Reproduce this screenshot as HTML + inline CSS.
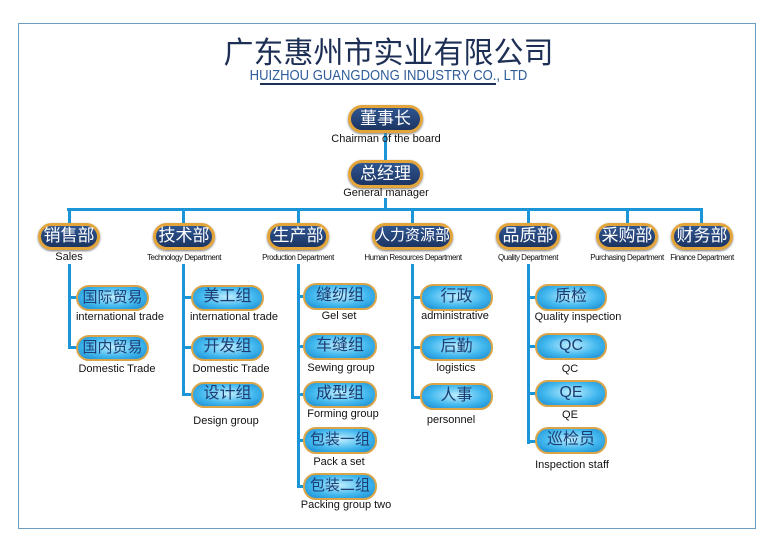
<!DOCTYPE html>
<html><head><meta charset="utf-8"><style>
body{margin:0;width:777px;height:548px;background:#fff;position:relative;overflow:hidden;font-family:"Liberation Sans","Noto Sans CJK SC",sans-serif}
.a{position:absolute}
.frame{left:18px;top:23px;width:738px;height:506px;border:1.5px solid #6a9ec0;box-sizing:border-box}
.dk{position:absolute;box-sizing:border-box;border:3px solid #e3a53a;border-radius:14px;background:linear-gradient(#2f5590,#1b3563);color:#fff;font-size:17px;line-height:1;white-space:nowrap;display:flex;align-items:center;justify-content:center;padding-bottom:2px;box-shadow:0 1px 2px #777}
.lt{position:absolute;box-sizing:border-box;border:2px solid #d9a548;border-radius:13px;background:radial-gradient(ellipse at 50% 45%,#bfeeff 0%,#42b8ee 55%,#1587cf 100%);color:#1d3e73;font-size:16px;line-height:1;white-space:nowrap;display:flex;align-items:center;justify-content:center;padding-bottom:2px}
.lb{position:absolute;font-size:11px;color:#111;text-align:center;transform:translateX(-50%);white-space:nowrap}
.sm{font-size:8px;letter-spacing:-0.5px}
.ln{position:absolute;background:#1a96d8}
</style></head><body>
<div class="a frame"></div>
<div class="a" style="left:0;width:777px;top:32px;text-align:center;font-size:30px;color:#1e2f55;font-family:'Noto Sans CJK SC',sans-serif;line-height:36px">广东惠州市实业有限公司</div>
<div class="a" style="left:0;width:777px;top:67px;text-align:center;font-size:15px;color:#2e5c9a;transform:scaleX(0.87)">HUIZHOU GUANGDONG INDUSTRY CO., LTD</div>
<div class="a" style="left:260px;top:83px;width:236px;height:2px;background:#1e2f55"></div>

<div class="ln" style="left:384px;top:133px;width:3px;height:28px"></div>
<div class="ln" style="left:384px;top:198px;width:3px;height:12px"></div>
<div class="ln" style="left:67px;top:208px;width:635px;height:3px"></div>
<div class="ln" style="left:68px;top:208px;width:3px;height:16px"></div>
<div class="ln" style="left:182px;top:208px;width:3px;height:16px"></div>
<div class="ln" style="left:297px;top:208px;width:3px;height:16px"></div>
<div class="ln" style="left:411px;top:208px;width:3px;height:16px"></div>
<div class="ln" style="left:527px;top:208px;width:3px;height:16px"></div>
<div class="ln" style="left:626px;top:208px;width:3px;height:16px"></div>
<div class="ln" style="left:700px;top:208px;width:3px;height:16px"></div>

<div class="ln" style="left:68px;top:264px;width:3px;height:85px"></div>
<div class="ln" style="left:68px;top:296px;width:10px;height:3px"></div>
<div class="ln" style="left:68px;top:346px;width:10px;height:3px"></div>
<div class="ln" style="left:182px;top:264px;width:3px;height:132px"></div>
<div class="ln" style="left:182px;top:296px;width:10px;height:3px"></div>
<div class="ln" style="left:182px;top:346px;width:10px;height:3px"></div>
<div class="ln" style="left:182px;top:393px;width:10px;height:3px"></div>
<div class="ln" style="left:297px;top:264px;width:3px;height:224px"></div>
<div class="ln" style="left:297px;top:295px;width:8px;height:3px"></div>
<div class="ln" style="left:297px;top:345px;width:8px;height:3px"></div>
<div class="ln" style="left:297px;top:393px;width:8px;height:3px"></div>
<div class="ln" style="left:297px;top:439px;width:8px;height:3px"></div>
<div class="ln" style="left:297px;top:485px;width:8px;height:3px"></div>
<div class="ln" style="left:411px;top:264px;width:3px;height:135px"></div>
<div class="ln" style="left:411px;top:296px;width:10px;height:3px"></div>
<div class="ln" style="left:411px;top:346px;width:10px;height:3px"></div>
<div class="ln" style="left:411px;top:396px;width:10px;height:3px"></div>
<div class="ln" style="left:527px;top:264px;width:3px;height:180px"></div>
<div class="ln" style="left:527px;top:296px;width:10px;height:3px"></div>
<div class="ln" style="left:527px;top:345px;width:10px;height:3px"></div>
<div class="ln" style="left:527px;top:392px;width:10px;height:3px"></div>
<div class="ln" style="left:527px;top:440px;width:10px;height:3px"></div>

<div class="dk" style="left:348px;top:105px;width:75px;height:28px">董事长</div>
<div class="lb" style="left:386px;top:133px">Chairman of the board</div>
<div class="dk" style="left:348px;top:160px;width:75px;height:28px">总经理</div>
<div class="lb" style="left:386px;top:187px">General manager</div>

<div class="dk" style="left:38px;top:223px;width:62px;height:27px">销售部</div>
<div class="lb" style="left:69px;top:251px">Sales</div>
<div class="dk" style="left:153px;top:223px;width:62px;height:27px">技术部</div>
<div class="lb sm" style="left:184px;top:253px">Technology Department</div>
<div class="dk" style="left:267px;top:223px;width:62px;height:27px">生产部</div>
<div class="lb sm" style="left:298px;top:253px">Production Department</div>
<div class="dk" style="left:372px;top:223px;width:81px;height:27px;font-size:15px">人力资源部</div>
<div class="lb sm" style="left:413px;top:253px">Human Resources Department</div>
<div class="dk" style="left:496px;top:223px;width:64px;height:27px">品质部</div>
<div class="lb sm" style="left:528px;top:253px">Quality Department</div>
<div class="dk" style="left:596px;top:223px;width:62px;height:27px">采购部</div>
<div class="lb sm" style="left:627px;top:253px">Purchasing Department</div>
<div class="dk" style="left:671px;top:223px;width:62px;height:27px">财务部</div>
<div class="lb sm" style="left:702px;top:253px">Finance Department</div>

<div class="lt" style="left:76px;top:285px;width:73px;height:26px;font-size:15px">国际贸易</div>
<div class="lb" style="left:120px;top:311px">international trade</div>
<div class="lt" style="left:76px;top:335px;width:73px;height:26px;font-size:15px">国内贸易</div>
<div class="lb" style="left:117px;top:363px">Domestic Trade</div>
<div class="lt" style="left:191px;top:285px;width:73px;height:26px">美工组</div>
<div class="lb" style="left:234px;top:311px">international trade</div>
<div class="lt" style="left:191px;top:335px;width:73px;height:26px">开发组</div>
<div class="lb" style="left:231px;top:363px">Domestic Trade</div>
<div class="lt" style="left:191px;top:382px;width:73px;height:26px">设计组</div>
<div class="lb" style="left:226px;top:415px">Design group</div>
<div class="lt" style="left:303px;top:283px;width:74px;height:27px">缝纫组</div>
<div class="lb" style="left:339px;top:310px">Gel set</div>
<div class="lt" style="left:303px;top:333px;width:74px;height:27px">车缝组</div>
<div class="lb" style="left:341px;top:362px">Sewing group</div>
<div class="lt" style="left:303px;top:381px;width:74px;height:27px">成型组</div>
<div class="lb" style="left:343px;top:408px">Forming group</div>
<div class="lt" style="left:303px;top:427px;width:74px;height:27px;font-size:15px">包装一组</div>
<div class="lb" style="left:339px;top:456px">Pack a set</div>
<div class="lt" style="left:303px;top:473px;width:74px;height:27px;font-size:15px">包装二组</div>
<div class="lb" style="left:346px;top:499px">Packing group two</div>
<div class="lt" style="left:420px;top:284px;width:73px;height:27px">行政</div>
<div class="lb" style="left:455px;top:310px">administrative</div>
<div class="lt" style="left:420px;top:334px;width:73px;height:27px">后勤</div>
<div class="lb" style="left:456px;top:362px">logistics</div>
<div class="lt" style="left:420px;top:383px;width:73px;height:27px">人事</div>
<div class="lb" style="left:451px;top:414px">personnel</div>
<div class="lt" style="left:535px;top:284px;width:72px;height:27px">质检</div>
<div class="lb" style="left:578px;top:311px">Quality inspection</div>
<div class="lt" style="left:535px;top:333px;width:72px;height:27px">QC</div>
<div class="lb" style="left:570px;top:363px">QC</div>
<div class="lt" style="left:535px;top:380px;width:72px;height:27px">QE</div>
<div class="lb" style="left:570px;top:409px">QE</div>
<div class="lt" style="left:535px;top:427px;width:72px;height:27px">巡检员</div>
<div class="lb" style="left:572px;top:459px">Inspection staff</div>
</body></html>
